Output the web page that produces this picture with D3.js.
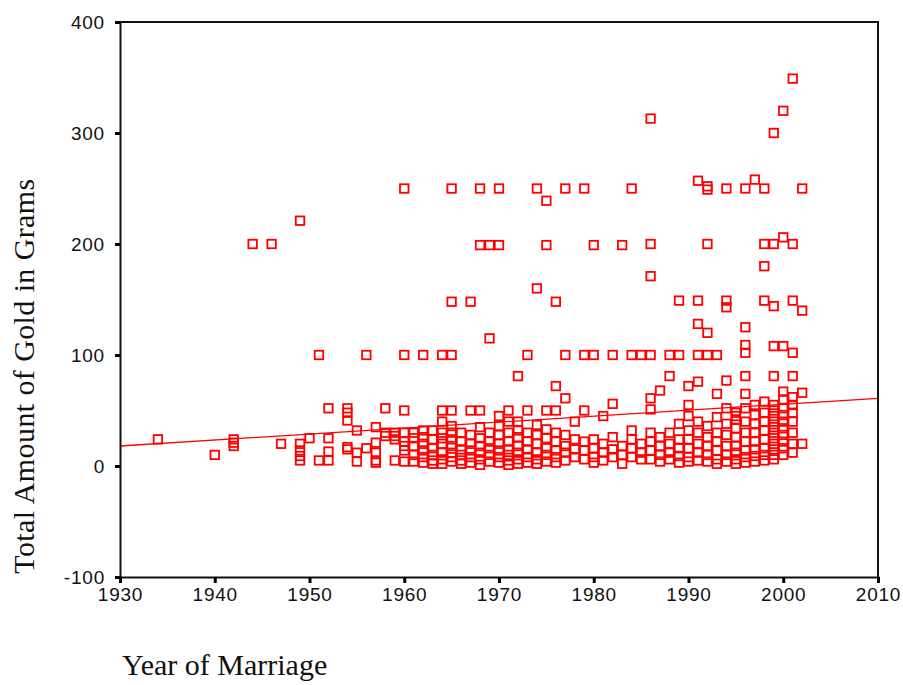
<!DOCTYPE html>
<html>
<head>
<meta charset="utf-8">
<script src="https://cdn.jsdelivr.net/npm/d3@7"></script>
<style>
  html, body { margin: 0; padding: 0; background: #fff; }
  svg { display: block; }
</style>
</head>
<body>
<svg id="chart" width="903" height="685"></svg>
<script>
// Year of marriage and total gold (grams) received, one entry per respondent.
const marriageYears = [
  1934, 1940, 1942, 1942, 1942, 1944, 1946, 1947,
  1949, 1949, 1949, 1949, 1949, 1950, 1951, 1951,
  1952, 1952, 1952, 1952,
  1954, 1954, 1954, 1954, 1954,
  1955, 1955, 1955, 1956, 1956,
  1957, 1957, 1957, 1957, 1957,
  1958, 1958, 1958, 1959, 1959, 1959, 1959,
  1960, 1960, 1960, 1960, 1960, 1960, 1960, 1960,
  1961, 1961, 1961, 1961, 1961,
  1962, 1962, 1962, 1962, 1962, 1962, 1962,
  1963, 1963, 1963, 1963, 1963, 1963,
  1964, 1964, 1964, 1964, 1964, 1964, 1964, 1964, 1964,
  1965, 1965, 1965, 1965, 1965, 1965, 1965, 1965, 1965, 1965, 1965,
  1966, 1966, 1966, 1966, 1966, 1966,
  1967, 1967, 1967, 1967, 1967, 1967, 1967,
  1968, 1968, 1968, 1968, 1968, 1968, 1968, 1968, 1968,
  1969, 1969, 1969, 1969, 1969, 1969, 1969,
  1970, 1970, 1970, 1970, 1970, 1970, 1970, 1970, 1970,
  1971, 1971, 1971, 1971, 1971, 1971, 1971, 1971,
  1972, 1972, 1972, 1972, 1972, 1972, 1972, 1972,
  1973, 1973, 1973, 1973, 1973, 1973, 1973,
  1974, 1974, 1974, 1974, 1974, 1974, 1974, 1974,
  1975, 1975, 1975, 1975, 1975, 1975, 1975, 1975,
  1976, 1976, 1976, 1976, 1976, 1976, 1976, 1976,
  1977, 1977, 1977, 1977, 1977, 1977, 1977,
  1978, 1978, 1978, 1978,
  1979, 1979, 1979, 1979, 1979, 1979,
  1980, 1980, 1980, 1980, 1980, 1980,
  1981, 1981, 1981, 1981,
  1982, 1982, 1982, 1982, 1982,
  1983, 1983, 1983, 1983,
  1984, 1984, 1984, 1984, 1984, 1984,
  1985, 1985, 1985, 1985,
  1986, 1986, 1986, 1986, 1986, 1986, 1986, 1986, 1986, 1986,
  1987, 1987, 1987, 1987, 1987,
  1988, 1988, 1988, 1988, 1988, 1988,
  1989, 1989, 1989, 1989, 1989, 1989, 1989,
  1990, 1990, 1990, 1990, 1990, 1990, 1990, 1990,
  1991, 1991, 1991, 1991, 1991, 1991, 1991, 1991, 1991, 1991,
  1992, 1992, 1992, 1992, 1992, 1992, 1992, 1992, 1992, 1992,
  1993, 1993, 1993, 1993, 1993, 1993, 1993, 1993,
  1994, 1994, 1994, 1994, 1994, 1994, 1994, 1994, 1994, 1994,
  1995, 1995, 1995, 1995, 1995, 1995, 1995, 1995, 1995,
  1996, 1996, 1996, 1996, 1996, 1996, 1996, 1996, 1996, 1996, 1996, 1996, 1996,
  1997, 1997, 1997, 1997, 1997, 1997, 1997, 1997, 1997,
  1998, 1998, 1998, 1998, 1998, 1998, 1998, 1998, 1998, 1998, 1998, 1998,
  1999, 1999, 1999, 1999, 1999, 1999, 1999, 1999, 1999, 1999, 1999, 1999, 1999, 1999, 1999, 1999,
  2000, 2000, 2000, 2000, 2000, 2000, 2000, 2000, 2000, 2000, 2000, 2000, 2000,
  2001, 2001, 2001, 2001, 2001, 2001, 2001, 2001, 2001, 2001, 2001, 2001,
  2002, 2002, 2002, 2002
];

const goldGrams = [
  24, 10, 24, 21, 18, 200, 200, 20,
  221, 20, 14, 9, 5, 25, 100, 5,
  52, 25, 13, 5,
  52, 48, 41, 17, 15,
  32, 12, 4, 100, 16,
  35, 21, 12, 5, 3,
  52, 30, 27, 30, 27, 24, 5,
  250, 100, 50, 30, 22, 18, 14, 4,
  30, 25, 18, 10, 4,
  100, 32, 26, 20, 14, 8, 3,
  32, 24, 16, 10, 5, 2,
  100, 50, 40, 30, 25, 20, 12, 6, 2,
  250, 148, 100, 50, 36, 30, 24, 18, 12, 8, 4,
  30, 22, 15, 10, 5, 2,
  148, 50, 28, 20, 14, 8, 3,
  250, 199, 50, 35, 25, 18, 12, 6, 1,
  199, 115, 30, 22, 16, 10, 4,
  250, 199, 45, 36, 28, 20, 14, 8, 3,
  50, 40, 30, 22, 15, 10, 5, 1,
  81, 40, 32, 26, 18, 12, 6, 2,
  100, 50, 30, 22, 15, 8, 3,
  250, 160, 37, 28, 20, 12, 6, 2,
  239, 199, 50, 33, 25, 16, 10, 4,
  148, 72, 50, 30, 22, 14, 8, 3,
  250, 100, 61, 28, 18, 12, 5,
  40, 24, 15, 8,
  250, 100, 50, 22, 14, 6,
  199, 100, 24, 16, 8, 3,
  45, 20, 12, 5,
  100, 56, 26, 15, 8,
  199, 18, 10, 2,
  250, 100, 32, 24, 16, 8,
  100, 20, 12, 6,
  313, 200, 171, 100, 61, 51, 30, 22, 14, 6,
  68, 26, 18, 10, 4,
  100, 81, 30, 20, 12, 6,
  149, 100, 38, 24, 16, 9, 3,
  72, 55, 45, 32, 24, 16, 8, 4,
  257, 149, 128, 100, 76, 40, 30, 20, 12, 5,
  252, 249, 200, 120, 100, 36, 26, 18, 10, 4,
  100, 65, 44, 30, 22, 14, 6, 2,
  250, 149, 143, 77, 52, 38, 28, 18, 10, 4,
  48, 45, 42, 34, 26, 18, 12, 6, 2,
  250, 125, 109, 102, 81, 65, 52, 40, 30, 22, 14, 8, 3,
  258, 55, 46, 38, 30, 22, 15, 9, 4,
  250, 200, 180, 149, 58, 48, 40, 32, 24, 16, 10, 5,
  300, 200, 144, 108, 81, 55, 50, 45, 40, 35, 30, 25, 20, 15, 10, 6,
  320, 206, 108, 67, 60, 52, 46, 40, 34, 28, 22, 16, 10,
  349, 200, 149, 102, 81, 62, 55, 48, 40, 30, 20, 12,
  250, 140, 66, 20
];

// Linear fit of gold on year, evaluated at the ends of the x range.
const fitYears = [1930, 2010];
const fitGrams = [18, 61];

const xTicks = [1930, 1940, 1950, 1960, 1970, 1980, 1990, 2000, 2010];
const yTicks = [-100, 0, 100, 200, 300, 400];

const xLabel = "Year of Marriage";
const yLabel = "Total Amount of Gold in Grams";

const svg = d3.select("#chart");
const plot = { left: 120, right: 878, top: 22, bottom: 577 };

const x = d3.scaleLinear().domain([1930, 2010]).range([plot.left, plot.right]);
const y = d3.scaleLinear().domain([-100, 400]).range([plot.bottom, plot.top]);

const red = "#ff0000";
const points = marriageYears.map((yr, i) => ({ year: yr, grams: goldGrams[i] }));

// Fit line
svg.append("line")
  .attr("x1", x(fitYears[0])).attr("y1", y(fitGrams[0]))
  .attr("x2", x(fitYears[1])).attr("y2", y(fitGrams[1]))
  .attr("stroke", red).attr("stroke-width", 1.3);

// Square markers
const box = 8.5;
svg.append("g").selectAll("rect").data(points).join("rect")
  .attr("x", d => x(d.year) - box / 2)
  .attr("y", d => y(d.grams) - box / 2)
  .attr("width", box).attr("height", box)
  .attr("fill", "none")
  .attr("stroke", red)
  .attr("stroke-width", 1.8);

// Frame (top and right edges)
svg.append("path")
  .attr("d", `M${plot.left},${plot.top}H${plot.right}V${plot.bottom}`)
  .attr("fill", "none").attr("stroke", "#111").attr("stroke-width", 2);

const tickFont = "'Liberation Sans', Arial, sans-serif";
const plainNumber = d => String(d);

// Left axis
const yAxis = d3.axisLeft(y).tickValues(yTicks).tickSize(5).tickPadding(10)
  .tickFormat(plainNumber);
const gy = svg.append("g").attr("transform", `translate(${plot.left},0)`).call(yAxis);
gy.select(".domain").attr("stroke", "#111").attr("stroke-width", 2);
gy.selectAll(".tick line").attr("stroke", "#000").attr("stroke-width", 3);
gy.selectAll(".tick text")
  .attr("font-family", tickFont).attr("font-size", 19)
  .attr("letter-spacing", 0.8).attr("fill", "#111");

// Bottom axis
const xAxis = d3.axisBottom(x).tickValues(xTicks).tickSize(6).tickPadding(5)
  .tickFormat(plainNumber);
const gx = svg.append("g").attr("transform", `translate(0,${plot.bottom})`).call(xAxis);
gx.select(".domain").attr("stroke", "#111").attr("stroke-width", 2);
gx.selectAll(".tick line").attr("stroke", "#000").attr("stroke-width", 3);
gx.selectAll(".tick text")
  .attr("font-family", tickFont).attr("font-size", 19)
  .attr("letter-spacing", 0.8).attr("fill", "#111");

// Axis titles
const titleFont = "'Liberation Serif', 'Times New Roman', serif";
svg.append("text")
  .attr("x", 122).attr("y", 675)
  .attr("font-family", titleFont).attr("font-size", 30)
  .attr("fill", "#111")
  .text(xLabel);

svg.append("text")
  .attr("transform", "translate(34,376) rotate(-90)")
  .attr("text-anchor", "middle")
  .attr("font-family", titleFont).attr("font-size", 30)
  .attr("letter-spacing", 0.4)
  .attr("fill", "#111")
  .text(yLabel);
</script>
</body>
</html>
